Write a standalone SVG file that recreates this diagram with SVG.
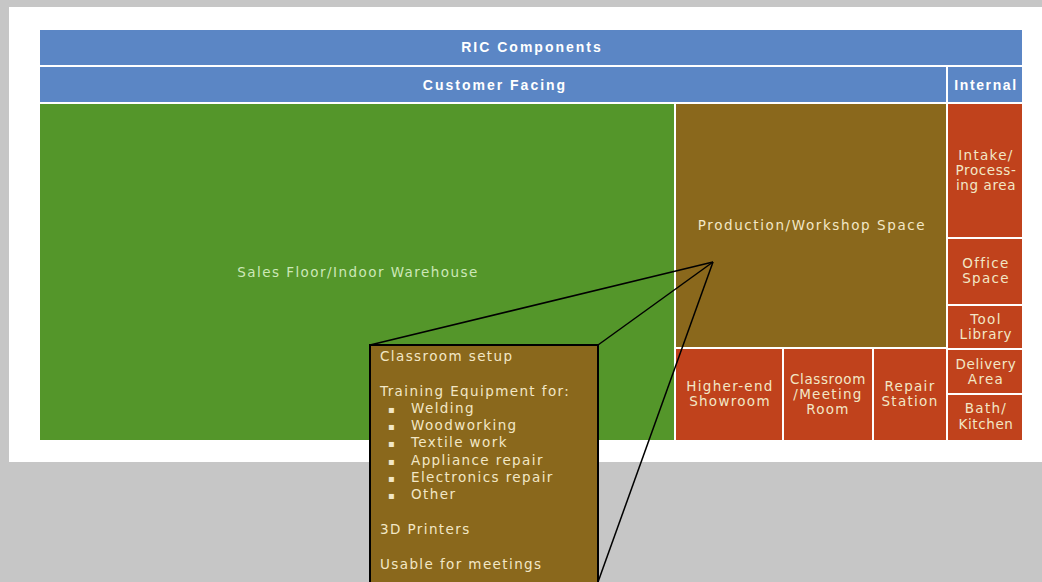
<svg xmlns="http://www.w3.org/2000/svg" width="1042" height="582" viewBox="0 0 1042 582">
<style>
text{font-family:"DejaVu Sans","Liberation Sans",Arial,sans-serif;}
.hdr{fill:#5b86c5;}
.hdrt{font-family:"Liberation Sans",Arial,sans-serif;fill:#ffffff;font-weight:bold;font-size:14px;letter-spacing:2px;text-anchor:middle;}
.grn{fill:#54962a;}
.brn{fill:#8a681c;}
.red{fill:#c0421c;}
.lt{fill:#f2e7c6;font-size:13.5px;letter-spacing:1.3px;text-anchor:middle;}
.gt{fill:#cde8b8;font-size:13.5px;letter-spacing:1.45px;text-anchor:middle;}
.ct{fill:#f2e7c6;font-size:13.5px;letter-spacing:1.4px;}
.bl{fill:#f2e7c6;font-size:10px;}
.con{stroke:#000;stroke-width:1.5;fill:none;}
</style>
<rect x="0" y="0" width="1042" height="582" fill="#c6c6c6"/>
<rect x="9" y="7" width="1033" height="455" fill="#ffffff"/>
<g id="ric"><rect class="hdr" x="40" y="30" width="982" height="35"/><text class="hdrt" x="532" y="52">RIC Components</text></g>
<g id="customer"><rect class="hdr" x="40" y="67" width="906" height="35"/><text class="hdrt" x="495" y="90">Customer Facing</text></g>
<g id="internal"><rect class="hdr" x="948" y="67" width="74" height="35"/><text class="hdrt" x="986" y="90" style="letter-spacing:1.6px">Internal</text></g>
<g id="sales"><rect class="grn" x="40" y="104" width="634" height="336"/><text class="gt" x="358" y="277">Sales Floor/Indoor Warehouse</text></g>
<g id="production"><rect class="brn" x="676" y="104" width="270" height="243"/><text class="lt" x="812" y="230" style="letter-spacing:1.6px">Production/Workshop Space</text></g>
<g id="showroom"><rect class="red" x="676" y="349" width="106" height="91"/><text class="lt" x="730" y="391">Higher-end</text><text class="lt" x="730" y="406">Showroom</text></g>
<g id="classroom"><rect class="red" x="784" y="349" width="88" height="91"/><text class="lt" x="828" y="384" style="letter-spacing:0.6px">Classroom</text><text class="lt" x="828" y="399">/Meeting</text><text class="lt" x="828" y="414">Room</text></g>
<g id="repair"><rect class="red" x="874" y="349" width="72" height="91"/><text class="lt" x="910" y="391">Repair</text><text class="lt" x="910" y="406">Station</text></g>
<g id="intake"><rect class="red" x="948" y="104" width="74" height="133"/><text class="lt" x="986" y="160">Intake/</text><text class="lt" x="986" y="175" style="letter-spacing:0.6px">Process-</text><text class="lt" x="986" y="190" style="letter-spacing:0.6px">ing area</text></g>
<g id="office"><rect class="red" x="948" y="239" width="74" height="65"/><text class="lt" x="986" y="268">Office</text><text class="lt" x="986" y="283">Space</text></g>
<g id="tool"><rect class="red" x="948" y="306" width="74" height="42"/><text class="lt" x="986" y="324">Tool</text><text class="lt" x="986" y="339" style="letter-spacing:0.8px">Library</text></g>
<g id="delivery"><rect class="red" x="948" y="350" width="74" height="43"/><text class="lt" x="986" y="369" style="letter-spacing:0.6px">Delivery</text><text class="lt" x="986" y="384">Area</text></g>
<g id="bath"><rect class="red" x="948" y="395" width="74" height="45"/><text class="lt" x="986" y="413">Bath/</text><text class="lt" x="986" y="429" style="letter-spacing:0.6px">Kitchen</text></g>
<g id="callout">
<rect x="370" y="345" width="228" height="245" fill="#8a681c" stroke="#000" stroke-width="2"/>
<text class="ct" x="380" y="361">Classroom setup</text>
<text class="ct" x="380" y="396">Training Equipment for:</text>
<text class="bl" x="388" y="413">▪</text><text class="ct" x="411" y="413">Welding</text>
<text class="bl" x="388" y="430">▪</text><text class="ct" x="411" y="430">Woodworking</text>
<text class="bl" x="388" y="447">▪</text><text class="ct" x="411" y="447">Textile work</text>
<text class="bl" x="388" y="465">▪</text><text class="ct" x="411" y="465">Appliance repair</text>
<text class="bl" x="388" y="482">▪</text><text class="ct" x="411" y="482">Electronics repair</text>
<text class="bl" x="388" y="499">▪</text><text class="ct" x="411" y="499">Other</text>
<text class="ct" x="380" y="534">3D Printers</text>
<text class="ct" x="380" y="569">Usable for meetings</text>
</g>
<g id="connectors">
<line class="con" x1="713" y1="262" x2="370" y2="345"/>
<line class="con" x1="713" y1="262" x2="598" y2="345"/>
<line class="con" x1="713" y1="262" x2="598" y2="582"/>
</g>
</svg>
